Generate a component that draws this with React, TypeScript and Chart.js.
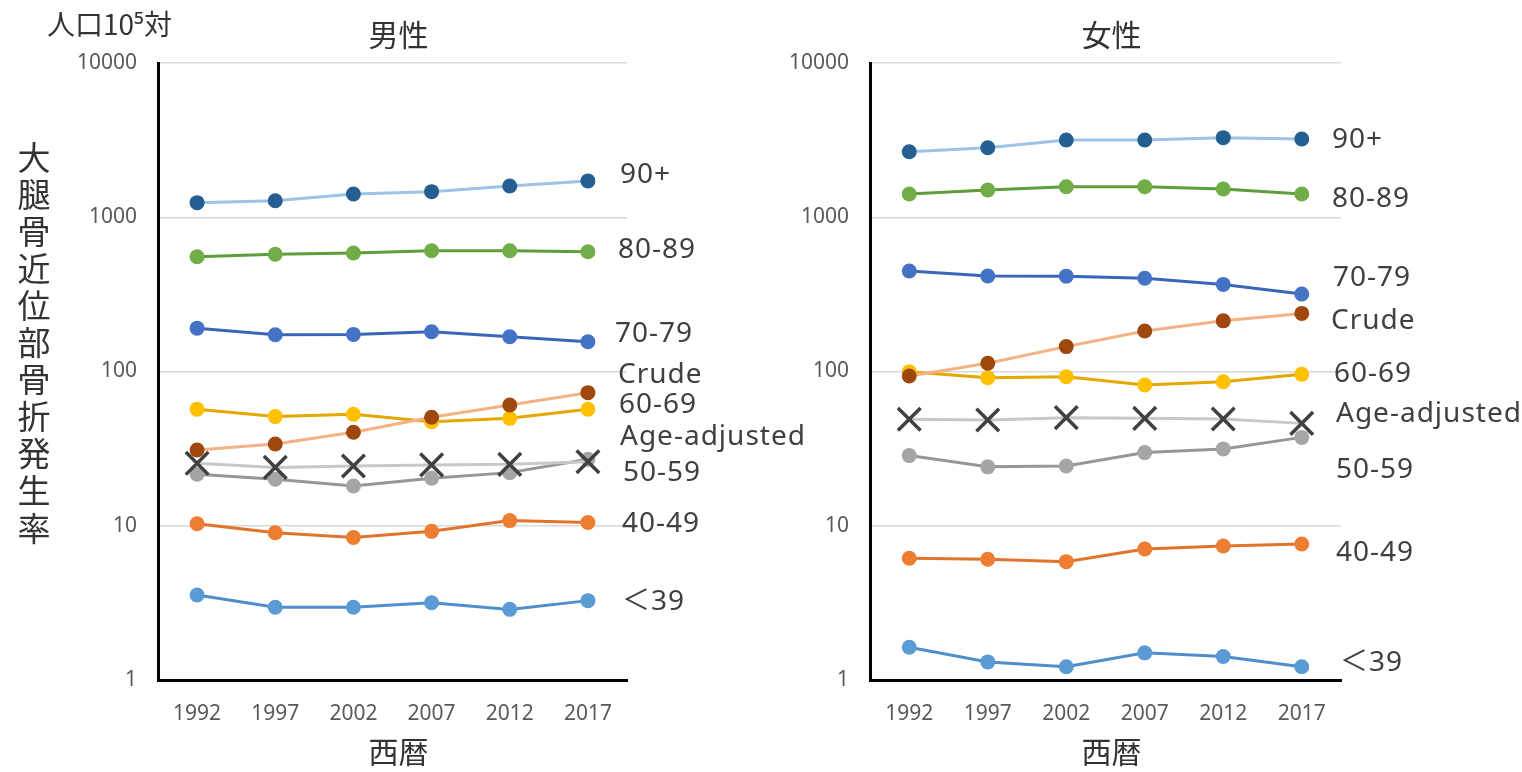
import React, { useEffect, useRef } from 'react';
import { Chart, registerables } from 'chart.js';

Chart.register(...registerables);

// ---------- data ----------
const years = ['1992', '1997', '2002', '2007', '2012', '2017'];
const yTickValues = [1, 10, 100, 1000, 10000];

const seriesNames = ['Age-adjusted', 'Crude', '90+', '80-89', '70-79', '60-69', '50-59', '40-49', '＜39'];

// male (男性)
const maleAdj = [25.4, 23.9, 24.4, 24.8, 25.0, 26.0];
const maleCrude = [31.0, 33.9, 40.4, 50.5, 60.6, 72.9];
const male90 = [1243, 1280, 1415, 1465, 1595, 1720];
const male8089 = [555, 575, 587, 607, 607, 598];
const male7079 = [191, 173, 174, 181, 168, 156];
const male6069 = [57.0, 51.0, 52.8, 47.3, 49.7, 56.9];
const male5059 = [21.6, 20.0, 18.1, 20.3, 22.1, 27.0];
const male4049 = [10.3, 9.0, 8.4, 9.2, 10.8, 10.5];
const male39 = [3.56, 2.96, 2.96, 3.17, 2.87, 3.27];

// female (女性)
const femaleAdj = [49.0, 48.5, 50.2, 49.7, 49.2, 46.1];
const femaleCrude = [93.5, 113, 145, 183, 213, 238];
const female90 = [2660, 2825, 3170, 3170, 3280, 3215];
const female8089 = [1415, 1502, 1578, 1578, 1525, 1415];
const female7079 = [448, 416, 415, 402, 367, 318];
const female6069 = [99.7, 91.2, 92.5, 81.7, 85.9, 95.9];
const female5059 = [28.5, 24.1, 24.4, 29.8, 31.5, 37.4];
const female4049 = [6.15, 6.06, 5.85, 7.07, 7.39, 7.62];
const female39 = [1.63, 1.31, 1.22, 1.50, 1.42, 1.22];

// where the series name labels sit (y in data units)
const maleLabelValues = [37.6, 94.8, 1880, 614, 175, 60.6, 22.0, 10.3, 3.2];
const femaleLabelValues = [53, 212, 3170, 1313, 404, 96.4, 23, 6.66, 1.29];

// ---------- styles ----------
const lineColors = ['#C8C8C8', '#F4B183', '#9DC3E6', '#5E9E3A', '#3A66BA', '#E2A800', '#969696', '#E0742C', '#4F8ECB'];
const pointColors = ['#404040', '#9E480E', '#255E91', '#70AD47', '#4472C4', '#FFC000', '#A5A5A5', '#ED7D31', '#5B9BD5'];
const maleLabelDx = [-7, -9, -7, -9, -12, -8, -4, -5, -5];
const femaleLabelDx = [-5, -10, -9, -9, -8, -7, -5, -5, -1];

const TICK_FONT = { family: '"Noto Sans", sans-serif', size: 21 };
const JP = '"Noto Sans CJK JP", "Noto Sans", sans-serif';
const LABEL_FONT = '28px "Noto Sans", "Noto Sans CJK JP", sans-serif';

type PanelCfg = {
  title: string;
  data: number[][];
  labelValues: number[];
  labelDx: number[];
  yWidth: number;
  padRight: number;
  plotRight: number;
  showYTitle: boolean;
};

function makeChart(canvas: HTMLCanvasElement, cfg: PanelCfg) {
  const textPlugin = {
    id: 'panelTexts',
    afterDraw(chart: any) {
      const ctx = chart.ctx as CanvasRenderingContext2D;
      const { left, right, bottom } = chart.chartArea;
      const ys = chart.scales.y;
      ctx.save();
      // series labels
      ctx.font = LABEL_FONT;
      (ctx as any).letterSpacing = '1px';
      ctx.fillStyle = '#404040';
      ctx.textAlign = 'left';
      ctx.textBaseline = 'middle';
      seriesNames.forEach((name, i) => {
        const y = ys.getPixelForValue(cfg.labelValues[i]);
        ctx.fillText(name, right + cfg.labelDx[i], y);
      });
      (ctx as any).letterSpacing = '0px';
      // panel title & x title
      const cx = (left + right) / 2 + 6;
      ctx.fillStyle = '#333333';
      ctx.textAlign = 'center';
      ctx.font = `30px ${JP}`;
      ctx.fillText(cfg.title, cx, 35);
      ctx.fillText('西暦', cx, bottom + 72);
      if (cfg.showYTitle) {
        ctx.font = `28px ${JP}`;
        ctx.textAlign = 'left';
        ctx.fillText('人口10⁵対', 47, 24);
        ctx.font = `33px ${JP}`;
        ctx.textAlign = 'center';
        const chars = Array.from('大腿骨近位部骨折発生率');
        chars.forEach((ch, i) => {
          ctx.fillText(ch, 34, 157 + i * 37.1);
        });
      }
      ctx.restore();
    },
  };

  return new Chart(canvas, {
    type: 'line',
    data: {
      labels: years,
      datasets: seriesNames.map((name, i) => ({
        label: name,
        data: cfg.data[i],
        borderColor: lineColors[i],
        backgroundColor: pointColors[i],
        borderWidth: 3,
        pointStyle: i === 0 ? 'crossRot' : 'circle',
        pointRadius: i === 0 ? 16 : 7.5,
        pointBorderWidth: i === 0 ? 3.5 : 0,
        pointBorderColor: pointColors[i],
        pointBackgroundColor: pointColors[i],
        pointHoverRadius: i === 0 ? 16 : 7.5,
        fill: false,
        tension: 0,
      })),
    },
    options: {
      responsive: false,
      animation: false,
      events: [],
      layout: { padding: { left: 0, right: cfg.padRight, top: 63, bottom: 0 } },
      plugins: { legend: { display: false }, tooltip: { enabled: false }, title: { display: false } },
      scales: {
        x: {
          type: 'category',
          offset: true,
          grid: { display: false, drawTicks: false },
          border: { display: true, color: '#000000', width: 3 },
          ticks: { font: TICK_FONT, color: '#595959', padding: 21, maxRotation: 0 },
          afterFit: (s: any) => {
            s.height = 92;
          },
        },
        y: {
          type: 'logarithmic',
          min: 1,
          max: 10000,
          afterBuildTicks: (s: any) => {
            s.ticks = yTickValues.map((v) => ({ value: v }));
          },
          ticks: {
            font: TICK_FONT,
            color: '#595959',
            padding: 21,
            callback: (v: any) => String(v),
          },
          grid: { color: '#D9D9D9', lineWidth: 1.5, drawTicks: false },
          border: { display: true, color: '#000000', width: 3 },
          afterFit: (s: any) => {
            s.width = cfg.yWidth;
          },
        },
      },
    } as any,
    plugins: [textPlugin],
  });
}

export default function App() {
  const leftRef = useRef<HTMLCanvasElement>(null);
  const rightRef = useRef<HTMLCanvasElement>(null);

  useEffect(() => {
    const c1 = makeChart(leftRef.current!, {
      title: '男性',
      data: [maleAdj, maleCrude, male90, male8089, male7079, male6069, male5059, male4049, male39],
      labelValues: maleLabelValues,
      labelDx: maleLabelDx,
      yWidth: 158,
      padRight: 233,
      plotRight: 627,
      showYTitle: true,
    });
    const c2 = makeChart(rightRef.current!, {
      title: '女性',
      data: [femaleAdj, femaleCrude, female90, female8089, female7079, female6069, female5059, female4049, female39],
      labelValues: femaleLabelValues,
      labelDx: femaleLabelDx,
      yWidth: 110,
      padRight: 181,
      plotRight: 581,
      showYTitle: false,
    });
    return () => {
      c1.destroy();
      c2.destroy();
    };
  }, []);

  return (
    <div style={{ position: 'absolute', left: 0, top: 0, width: 1522, height: 772, background: '#ffffff' }}>
      <canvas ref={leftRef} width={860} height={772} style={{ position: 'absolute', left: 0, top: 0 }} />
      <canvas ref={rightRef} width={762} height={772} style={{ position: 'absolute', left: 760, top: 0 }} />
    </div>
  );
}
